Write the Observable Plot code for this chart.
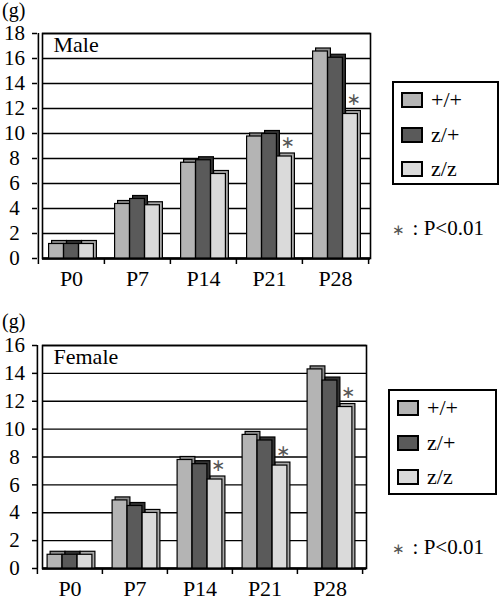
<!DOCTYPE html>
<html><head><meta charset="utf-8">
<script src="https://cdn.jsdelivr.net/npm/d3@7"></script>
<script src="https://cdn.jsdelivr.net/npm/@observablehq/plot@0.6"></script>
<style>
body{margin:0;background:#fff;}
#wrap{position:relative;width:500px;height:600px;overflow:hidden;font-family:"Liberation Serif","Times New Roman",serif;color:#000;}
.panel{position:absolute;left:0;}
.unit{position:absolute;left:2px;font-size:20px;line-height:19px;}
.legend{position:absolute;border:2px solid #000;box-sizing:border-box;background:#fff;}
.row{position:absolute;left:7px;height:20px;display:flex;align-items:center;font-size:22px;}
.sw{width:22px;height:16px;border:2px solid #000;margin-right:8px;box-sizing:border-box;}
.note{position:absolute;font-size:21px;line-height:21px;white-space:nowrap;}
.note .ast{font-family:"DejaVu Sans",sans-serif;font-size:15px;color:#555;margin-right:8px;}
</style></head><body><div id="wrap"></div>
<script>
// ---- data ----
const ages = ["P0", "P7", "P14", "P21", "P28"];
const genotypes = ["+/+", "z/+", "z/z"];
const maleWT  = [1.4, 4.6, 7.9, 10.0, 16.8];
const maleHet = [1.4, 5.0, 8.1, 10.2, 16.3];
const maleHom = [1.4, 4.5, 7.0, 8.4, 11.8];
const femaleWT  = [1.2, 5.1, 8.0, 9.8, 14.5];
const femaleHet = [1.2, 4.7, 7.7, 9.4, 13.7];
const femaleHom = [1.2, 4.2, 6.6, 7.6, 11.8];
const maleSig = ["P21", "P28"];
const femaleSig = ["P14", "P21", "P28"];
const maleTicks = [0, 2, 4, 6, 8, 10, 12, 14, 16, 18];
const femaleTicks = [0, 2, 4, 6, 8, 10, 12, 14, 16];
const sigNote = ": P<0.01";
const unitLabel = "(g)";

const faceColors = ["#b4b4b4", "#5a5a5a", "#dadada"];
const sideColors = ["#8c8c8c", "#333333", "#a9a9a9"];

function toRows(series) {
  const rows = [];
  series.forEach((vals, k) => vals.forEach((v, i) => rows.push({age: ages[i], g: genotypes[k], v})));
  return rows;
}

function panel({series, yTicks, label, sig, mT, mB, mR, xr}) {
  const rows = toRows(series);
  const yMax = yTicks[yTicks.length - 1];
  const H = 300;
  const bw = (xr[1] - xr[0]) / ages.length;
  const W = 15, D = 3;
  const tl = 6 * yMax / (H - mT - mB);
  const marks = [
    Plot.gridY(yTicks, {stroke: "#000", strokeOpacity: 1, strokeWidth: 1.3}),
    Plot.frame({stroke: "#000", strokeWidth: 1.6}),
    Plot.ruleX([ages[0]], {x: d => d, dx: -bw / 2, y1: 0, y2: yMax, stroke: "#000", strokeWidth: 1.6}),
    Plot.ruleX(ages, {x: d => d, dx: -bw / 2, y1: 0, y2: -tl, stroke: "#000", strokeWidth: 1.5}),
    Plot.ruleX([ages[ages.length - 1]], {x: d => d, dx: bw / 2, y1: 0, y2: -tl, stroke: "#000", strokeWidth: 1.5}),
    Plot.ruleY([0], {stroke: "#000", strokeWidth: 2.5})
  ];
  genotypes.forEach((g, k) => {
    const insetLeft = bw / 2 - 1.5 * W + k * W;
    const insetRight = bw - insetLeft - W;
    marks.push(Plot.barY(rows.filter(r => r.g === g), {x: "age", y: "v", fill: sideColors[k], stroke: "#000", strokeWidth: 1.2, insetLeft, insetRight, dx: D}));
  });
  genotypes.forEach((g, k) => {
    const insetLeft = bw / 2 - 1.5 * W + k * W;
    const insetRight = bw - insetLeft - W;
    marks.push(Plot.barY(rows.filter(r => r.g === g), {x: "age", y: "v", fill: faceColors[k], stroke: "#000", strokeWidth: 1.2, insetLeft, insetRight, dy: D, insetBottom: D}));
  });
  marks.push(
    Plot.text(rows.filter(r => r.g === "z/z" && sig.includes(r.age)), {x: "age", y: "v", text: () => "\u2217", dx: 18, dy: -11, fontSize: 17, fill: "#555", fontFamily: "DejaVu Sans"}),
    Plot.text([label], {frameAnchor: "top-left", dx: 11, dy: 3, textAnchor: "start", lineAnchor: "top", fontSize: 22}),
    Plot.axisY(yTicks, {tickSize: 5, dx: -5, tickPadding: 18, textAnchor: "middle", fontSize: 21, label: null, stroke: "#000", strokeWidth: 1.5}),
    Plot.axisX({tickSize: 0, tickPadding: 12, fontSize: 22, label: null})
  );
  return Plot.plot({
    width: 500, height: H,
    marginLeft: 42, marginRight: mR, marginTop: mT, marginBottom: mB,
    x: {type: "band", domain: ages, range: xr, padding: 0},
    y: {domain: [0, yMax]},
    style: {fontFamily: "'Liberation Serif', 'Times New Roman', serif", fontSize: "21px", color: "#000", background: "transparent", overflow: "visible"},
    marks
  });
}

const wrap = document.getElementById("wrap");

function addPanel(top, cfg, leg, note, unitTop) {
  const div = document.createElement("div");
  div.className = "panel";
  div.style.top = top + "px";
  div.appendChild(panel(cfg));
  wrap.appendChild(div);

  const u = document.createElement("div");
  u.className = "unit"; u.style.top = unitTop + "px"; u.textContent = unitLabel;
  wrap.appendChild(u);

  const lg = document.createElement("div");
  lg.className = "legend";
  Object.assign(lg.style, {left: leg.x + "px", top: leg.y + "px", width: leg.w + "px", height: leg.h + "px"});
  genotypes.forEach((g, k) => {
    const r = document.createElement("div");
    r.className = "row";
    r.style.top = leg.rows[k] + "px";
    const sw = document.createElement("div");
    sw.className = "sw"; sw.style.background = faceColors[k];
    const t = document.createElement("span"); t.textContent = g;
    r.appendChild(sw); r.appendChild(t);
    lg.appendChild(r);
  });
  wrap.appendChild(lg);

  const n = document.createElement("div");
  n.className = "note";
  Object.assign(n.style, {left: note.x + "px", top: note.y + "px"});
  n.innerHTML = '<span class="ast">\u2217</span>' + sigNote;
  wrap.appendChild(n);
}

addPanel(0,
  {series: [maleWT, maleHet, maleHom], yTicks: maleTicks, label: "Male", sig: maleSig, mT: 33, mB: 42, mR: 130, xr: [37, 368]},
  {x: 392, y: 81, w: 107, h: 104, rows: [7, 42, 76]},
  {x: 392, y: 218}, 1);

addPanel(300,
  {series: [femaleWT, femaleHet, femaleHom], yTicks: femaleTicks, label: "Female", sig: femaleSig, mT: 45, mB: 32, mR: 134, xr: [36, 362]},
  {x: 388, y: 389, w: 109, h: 106, rows: [7, 42, 76]},
  {x: 392, y: 537}, 312);
</script></body></html>
